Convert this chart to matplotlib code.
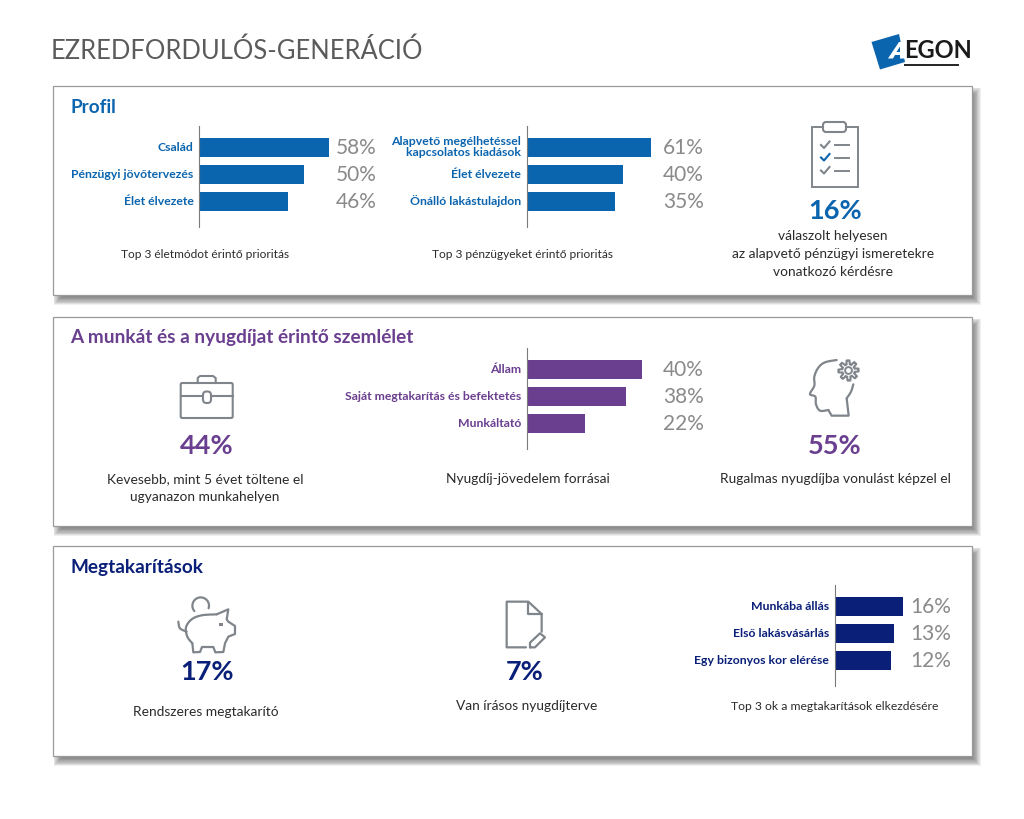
import numpy as np
import matplotlib
matplotlib.use("Agg")
import matplotlib.pyplot as plt
from matplotlib.patches import Rectangle, FancyBboxPatch, Polygon, Circle
from matplotlib.transforms import ScaledTranslation

plt.rcParams['font.family'] = ['Lato', 'DejaVu Sans']

# ---------- data ----------
title = "EZREDFORDULÓS-GENERÁCIÓ"
section_titles = ["Profil", "A munkát és a nyugdíjat érintő szemlélet", "Megtakarítások"]

life_cats = ["Család", "Pénzügyi jövőtervezés", "Élet élvezete"]
life_labels = [58, 50, 46]
life_bars = [58, 46.7, 39.8]          # bar lengths as drawn in the picture

money_cats = ["Alapvető megélhetéssel\nkapcsolatos kiadások", "Élet élvezete", "Önálló lakástulajdon"]
money_labels = [61, 40, 35]
money_bars = [61, 47.1, 43.3]

income_cats = ["Állam", "Saját megtakarítás és befektetés", "Munkáltató"]
income_labels = [40, 38, 22]
income_bars = [40, 34.5, 20.3]

reason_cats = ["Munkába állás", "Első lakásvásárlás", "Egy bizonyos kor elérése"]
reason_labels = [16, 13, 12]
reason_bars = [16, 13.8, 13.2]

BLUE = "#0b64ae"; PURPLE = "#6a3f8f"; NAVY = "#0a1f78"
ICON = "#7f858a"; PCT = "#8a8a8a"; TXT = "#2b2b2b"

W, H = 1024, 819
fig = plt.figure(figsize=(W / 100, H / 100), dpi=100, facecolor="white")
ov = fig.add_axes([0, 0, 1, 1], zorder=0)
ov.set_xlim(0, W); ov.set_ylim(H, 0); ov.axis("off")


def smooth(pts, n=12):
    p = np.asarray(pts, float)
    p = np.vstack([p[0], p, p[-1]])
    out = []
    for i in range(1, len(p) - 2):
        for t in np.linspace(0, 1, n, endpoint=False):
            a, b, c, d = p[i - 1], p[i], p[i + 1], p[i + 2]
            out.append(0.5 * (2 * b + (c - a) * t + (2 * a - 5 * b + 4 * c - d) * t ** 2
                              + (3 * b - a - 3 * c + d) * t ** 3))
    out.append(p[-2])
    return np.array(out)


def line(pts, color=ICON, lw=1.5):
    p = np.asarray(pts, float)
    ov.plot(p[:, 0], p[:, 1], color=color, lw=lw, solid_capstyle="round", solid_joinstyle="round", zorder=3)


def rrect(x0, y0, x1, y1, r=1.5, fc="none", ec=ICON, lw=1.5, z=3):
    ov.add_patch(FancyBboxPatch((x0, y0), x1 - x0, y1 - y0, boxstyle=f"round,pad=0,rounding_size={r}",
                                fc=fc, ec=ec, lw=lw, zorder=z))


# ---------- panels with soft shadow ----------
for y0, y1 in [(85.5, 295), (316.5, 526), (545.5, 756)]:
    for d in np.linspace(4, -4, 11):
        ov.add_patch(Rectangle((52.5 + 5 - d, y0 + 6 - d), 919 + 2 * d, y1 - y0 + 2 * d,
                               fc="#4a4a4a", ec="none", alpha=0.085, zorder=1))
    ov.add_patch(Rectangle((52.5, y0), 919, y1 - y0, fc="white", ec="#9a9a9a", lw=0.9, zorder=2))

# ---------- header ----------
ov.text(50.5, 49, title, fontsize=18.4, color="#5b5b5b", va="center_baseline", ha="left", zorder=5)
ov.add_patch(Polygon([(871.5, 42), (899, 34), (905, 62), (880, 69.5)], fc=BLUE, ec="none", zorder=3))
ov.add_patch(Polygon([(888, 58.5), (899, 42), (905, 42), (905, 58.5), (900, 58.5), (900, 55), (895, 55), (893, 58.5)],
                     fc="white", ec="none", zorder=4))
ov.add_patch(Polygon([(896.5, 52), (900, 46.5), (900, 52)], fc=BLUE, ec="none", zorder=4))
ov.text(904, 50.5, "EGON", fontsize=17, fontweight="bold", color="#1a1a1a", va="center", ha="left", zorder=5)
ov.plot([905, 958], [64.5, 64.5], color="#222222", lw=1.4, zorder=5)

# ---------- section titles ----------
for (txt, y, c) in zip(section_titles, [107.5, 338, 567.5], [BLUE, PURPLE, NAVY]):
    ov.text(70.5, y, txt, fontsize=13.7, fontweight="bold", color=c, va="center", ha="left", zorder=5)


# ---------- bar charts ----------
def bar_chart(x0, x1, ytop, cats, bars, labels, color, pct_right):
    ybot = ytop + 101
    ax = fig.add_axes([x0 / W, 1 - ybot / H, (x1 - x0) / W, 101 / H], zorder=3)
    ax.patch.set_alpha(0)
    y = np.arange(len(cats))
    ax.barh(y, bars, height=0.70, color=color, clip_on=False)
    ax.set_xlim(0, bars[0])
    ax.set_ylim(2.92, -0.79)
    for s in ["top", "right", "bottom"]:
        ax.spines[s].set_visible(False)
    ax.spines["left"].set_color("#7b7b7b"); ax.spines["left"].set_linewidth(0.8)
    ax.set_xticks([])
    ax.set_yticks(y, cats, fontsize=8.8, color=color, fontweight="bold", linespacing=1.05, ha="right")
    ax.tick_params(axis="y", length=0, pad=4)
    shift = ScaledTranslation(0, 1.5 / 100, fig.dpi_scale_trans)
    for lab in ax.get_yticklabels():
        lab.set_transform(lab.get_transform() + shift)
    xr = bars[0] * (pct_right - x0) / (x1 - x0)
    for i, v in enumerate(labels):
        ax.text(xr, i, f"{v}%", fontsize=15, color=PCT, ha="right", va="center", clip_on=False)
    return ax


bar_chart(199, 329, 126, life_cats, life_bars, life_labels, BLUE, 377)
bar_chart(526.7, 651, 126, money_cats, money_bars, money_labels, BLUE, 704)
bar_chart(526.7, 641.7, 348, income_cats, income_bars, income_labels, PURPLE, 704)
bar_chart(834.5, 903.3, 585, reason_cats, reason_bars, reason_labels, NAVY, 951.5)


# ---------- text ----------
def cap(x, y, s, size=9.9):
    ov.text(x, y, s, fontsize=size, color=TXT, ha="center", va="center", zorder=5)


def big(x, y, s, c):
    ov.text(x, y, s, fontsize=19.5, fontweight="bold", color=c, ha="center", va="center", zorder=5)


cap(205, 254, "Top 3 életmódot érintő prioritás", 8.55)
cap(522, 254, "Top 3 pénzügyeket érintő prioritás", 8.55)
big(835, 211, "16%", BLUE)
cap(833, 236, "válaszolt helyesen")
cap(833, 254, "az alapvető pénzügyi ismeretekre")
cap(833, 272, "vonatkozó kérdésre")
big(207, 445.5, "44%", PURPLE)
cap(205, 479, "Kevesebb, mint 5 évet töltene el")
cap(205, 497, "ugyanazon munkahelyen")
cap(528, 479, "Nyugdíj-jövedelem forrásai")
big(835, 445.5, "55%", PURPLE)
cap(835, 479, "Rugalmas nyugdíjba vonulást képzel el")
big(207, 672.5, "17%", NAVY)
cap(206, 712, "Rendszeres megtakarító")
big(525, 672.5, "7%", NAVY)
cap(527, 706, "Van írásos nyugdíjterve")
cap(835, 707, "Top 3 ok a megtakarítások elkezdésére", 8.7)

# ---------- icons ----------
# clipboard
ov.add_patch(Rectangle((811.7, 127), 46.5, 60, fc="white", ec=ICON, lw=1.4, zorder=3))
rrect(823, 122, 846, 132, r=3, fc="white")
for yy, c in zip([145, 157.5, 170.5], [ICON, BLUE, ICON]):
    ov.plot([821, 824, 829.5], [yy, yy + 3, yy - 3.5], color=c, lw=1.5, zorder=4)
    ov.plot([835, 849], [yy, yy], color=ICON, lw=1.4, zorder=4)

# briefcase
rrect(180.7, 383, 232.7, 418)
ov.plot([197.7, 197.7, 200, 213, 215.7, 215.7], [383, 378, 376, 376, 378, 383], color=ICON, lw=1.5, zorder=3)
ov.plot([181, 232.5], [395.7, 395.7], color=ICON, lw=1.5, zorder=3)
rrect(203, 391.5, 211, 403, r=3.5, fc="white", z=4)


# head with gear
def P(ox, oy, pts):
    return [(ox + a / 3, oy + b / 3) for a, b in pts]


line(smooth(P(790, 345, [(140, 45), (105, 52), (85, 68), (73, 95), (73, 122), (60, 147), (76, 155), (78, 178),
                         (90, 197), (115, 195)])), lw=1.6)
line(P(790, 345, [(115, 195), (125, 212), (176, 212), (170, 160)]), lw=1.6)
line(smooth(P(790, 345, [(170, 160), (183, 140), (190, 118)])), lw=1.6)
gx, gy = 848.5, 370.5
th = np.linspace(0, 2 * np.pi, 241)
r = 8.2 + 1.9 * np.clip(2.2 * np.cos(8 * th + np.pi / 8), -1, 1)
ov.fill(gx + r * np.cos(th), gy + r * np.sin(th), fc="white", ec=ICON, lw=1.5, zorder=3)
ov.add_patch(Circle((gx, gy), 3.4, fc="white", ec=ICON, lw=1.4, zorder=4))

# piggy bank
line(smooth(P(160, 590, [(170, 73), (125, 76), (95, 88), (78, 112), (82, 140), (97, 160)])), lw=1.6)
line(P(160, 590, [(97, 160), (100, 187), (120, 186), (126, 171), (160, 171), (166, 187), (190, 186), (195, 160),
                  (205, 140), (225, 132), (225, 108), (205, 95), (200, 88), (205, 58), (170, 73)]), lw=1.6)
line(smooth(P(160, 590, [(55, 95), (60, 115), (80, 125)])), lw=1.6)
ov.add_patch(Rectangle((219, 622.5), 3.5, 3.5, fc=ICON, ec="none", zorder=3))
t = np.radians(np.linspace(140, 378, 40))
line(np.c_[200.7 + 8.3 * np.cos(t), 605.7 + 8.3 * np.sin(t)], lw=1.6)

# document
line(P(490, 590, [(108, 172), (50, 172), (50, 35), (115, 35), (155, 72), (155, 125)]), lw=1.6)
line(P(490, 590, [(115, 35), (115, 72), (155, 72)]), lw=1.6)
line(P(490, 590, [(120, 172), (120, 158), (150, 130), (165, 142), (135, 172), (120, 172)]), lw=1.6)

fig.savefig("out.png", dpi=100, facecolor="white")
